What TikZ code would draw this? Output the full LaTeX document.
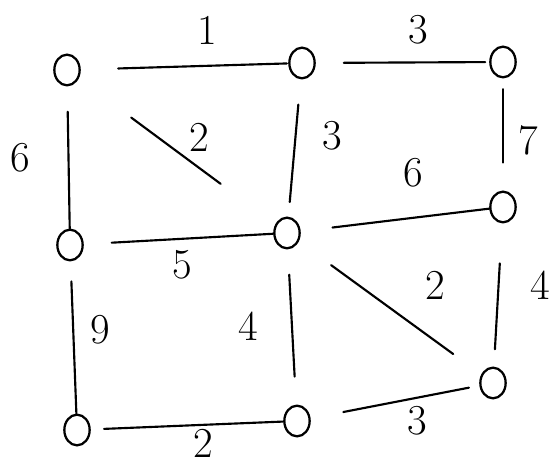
\documentclass[tikz,border=0pt]{standalone}
\usetikzlibrary{shapes.geometric}
\begin{document}
\begin{tikzpicture}[x=0.75pt,y=-0.75pt,font=\fontsize{32}{36}\selectfont,
 vert/.style={draw,ellipse,line width=1.7pt,minimum width=19pt,minimum height=23pt,inner sep=0pt},
 edge/.style={line width=1.6pt,line cap=round}]
 \useasboundingbox (0,0) rectangle (553,466);
 % vertices
 \foreach \n/\x/\y in {A/67/70,B/302/63,C/503/62,D/70/245,E/287/233,F/503/207,G/77/430,H/297/421,I/493/383}{
  \node[vert] (\n) at (\x,\y) {};
 }
 % edges with their gaps at both ends
 \foreach \a/\b/\s/\e in {A/B/28/1,B/C/21/3,B/E/19/11,C/F/8/21,E/F/24/0,A/D/19/0,A/E/49/51,
  D/E/21/0,D/G/15/0,G/H/10/0,E/H/19/21,E/I/30/26,F/I/30/13,H/I/25/8}{
  \draw[edge,shorten <=\s pt,shorten >=\e pt] (\a)--(\b);
 }
 % weights
 \foreach \n/\t/\x/\y in {AB/1/207/30,BC/3/418/30,AE/2/199/137,AD/6/20/158,BE/3/332/136,CF/7/528/140,
  EF/6/413/173,DE/5/182/265,DG/9/100/330,EH/4/248/326,EI/2/435/285,FI/4/540/285,GH/2/203/443,HI/3/417/421}{
  \node (w\n) at (\x,\y) {\t};
 }
\end{tikzpicture}
\end{document}
